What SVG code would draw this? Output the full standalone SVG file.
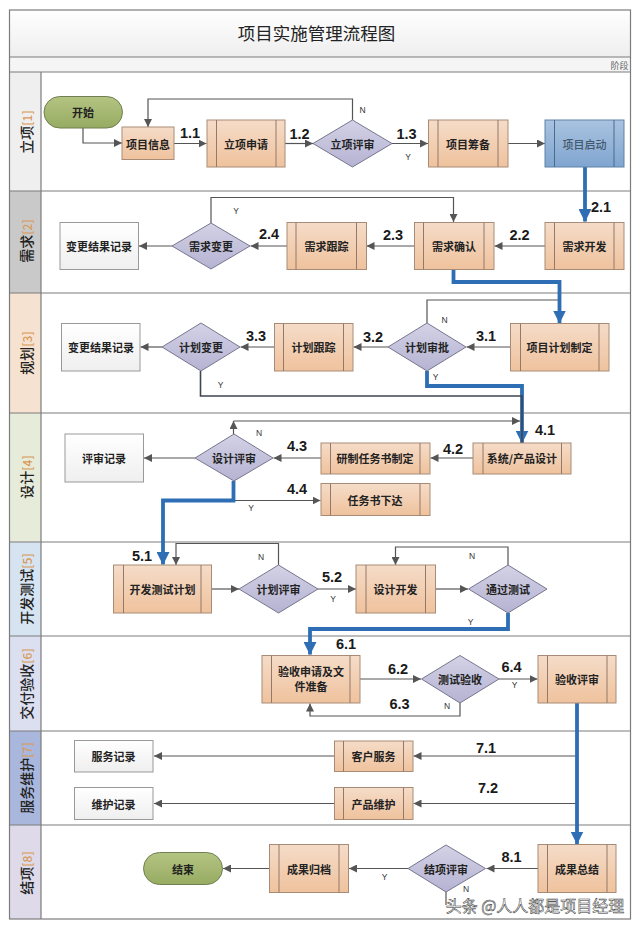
<svg xmlns="http://www.w3.org/2000/svg" width="640" height="926" viewBox="0 0 640 926">
<style>
text{font-family:"Noto Sans CJK SC","Liberation Sans",sans-serif;text-anchor:middle;dominant-baseline:central}
.t{font-size:11px;font-weight:700;fill:#222}
.title{font-size:17.5px;fill:#222}
.lane{font-size:14px;font-weight:500;fill:#222}
.lane tspan{fill:#d99a5b;font-size:12px}
.num{font-family:"Liberation Sans",sans-serif;font-size:14.5px;font-weight:700;fill:#1a1a1a}
.yn{font-family:"Liberation Sans",sans-serif;font-size:8.5px;fill:#333}
.p{fill:url(#orange);stroke:#a98c78;stroke-width:1}
.pb{fill:url(#blue);stroke:#5f81a8;stroke-width:1}
.in{stroke:#94786a;stroke-width:1;fill:none}
.inb{stroke:#4a6a90;stroke-width:1;fill:none}
.d{fill:url(#purple);stroke:#77768f;stroke-width:1}
.w{fill:url(#white);stroke:#999;stroke-width:1}
.g{fill:url(#green);stroke:#6f7f50;stroke-width:1}
.c{fill:none;stroke:#555;stroke-width:1.2;marker-end:url(#a)}
.n{fill:none;stroke:#555;stroke-width:1.2}
.b{fill:none;stroke:#2d6eb5;stroke-width:3.8;marker-end:url(#ab)}
.sep{stroke:#7c7c7c;stroke-width:1.2;fill:none}
</style>
<defs>
<linearGradient id="orange" x1="0" y1="0" x2="0" y2="1"><stop offset="0" stop-color="#f5dcc8"/><stop offset="1" stop-color="#efc29d"/></linearGradient>
<linearGradient id="blue" x1="0" y1="0" x2="0" y2="1"><stop offset="0" stop-color="#a9c3e0"/><stop offset="1" stop-color="#80a5cf"/></linearGradient>
<linearGradient id="purple" x1="0" y1="0" x2="0" y2="1"><stop offset="0" stop-color="#d3d2e6"/><stop offset="1" stop-color="#b5b3d2"/></linearGradient>
<linearGradient id="white" x1="0" y1="0" x2="0" y2="1"><stop offset="0" stop-color="#fff"/><stop offset="1" stop-color="#efefef"/></linearGradient>
<linearGradient id="green" x1="0" y1="0" x2="0" y2="1"><stop offset="0" stop-color="#b4c482"/><stop offset="1" stop-color="#97ab62"/></linearGradient>
<linearGradient id="titleg" x1="0" y1="0" x2="0" y2="1"><stop offset="0" stop-color="#fff"/><stop offset="1" stop-color="#eeeeee"/></linearGradient>
<marker id="a" markerUnits="userSpaceOnUse" markerWidth="9" markerHeight="8" refX="8" refY="4" orient="auto"><path d="M0 0L8 4L0 8z" fill="#555"/></marker>
<marker id="ab" markerUnits="userSpaceOnUse" markerWidth="14" markerHeight="13" refX="12.5" refY="6.5" orient="auto"><path d="M0 0L13 6.5L0 13z" fill="#2d6eb5"/></marker>
</defs>
<rect width="640" height="926" fill="#fff"/>
<g id="frame">
<rect x="9.5" y="10" width="621" height="47" fill="url(#titleg)"/>
<rect x="9.5" y="57" width="621" height="15" fill="#f5f5f5"/>
<rect x="9.5" y="72" width="31.5" height="119" fill="#efefef"/>
<rect x="9.5" y="191" width="31.5" height="102" fill="#c9c9c9"/>
<rect x="9.5" y="293" width="31.5" height="120" fill="#f6e2d0"/>
<rect x="9.5" y="413" width="31.5" height="129" fill="#e7ebda"/>
<rect x="9.5" y="542" width="31.5" height="94" fill="#d6e4f1"/>
<rect x="9.5" y="636" width="31.5" height="95" fill="#dcdff0"/>
<rect x="9.5" y="731" width="31.5" height="94" fill="#aab7dd"/>
<rect x="9.5" y="825" width="31.5" height="94" fill="#dedaea"/>
<rect x="9.5" y="10" width="621" height="909" class="sep"/>
<path class="sep" d="M9.5 57H630.5M9.5 72H630.5M9.5 191H630.5M9.5 293H630.5M9.5 413H630.5M9.5 542H630.5M9.5 636H630.5M9.5 731H630.5M9.5 825H630.5M41 72V919"/>
<text x="316.5" y="32.5" class="title">项目实施管理流程图</text>
<text x="619.5" y="65" font-size="9" fill="#666">阶段</text>
<text class="lane" transform="translate(26 132) rotate(-90)">立项<tspan>[1]</tspan></text>
<text class="lane" transform="translate(26 241) rotate(-90)">需求<tspan>[2]</tspan></text>
<text class="lane" transform="translate(26 353) rotate(-90)">规划<tspan>[3]</tspan></text>
<text class="lane" transform="translate(26 477) rotate(-90)">设计<tspan>[4]</tspan></text>
<text class="lane" transform="translate(26 589) rotate(-90)">开发测试<tspan>[5]</tspan></text>
<text class="lane" transform="translate(26 684) rotate(-90)">交付验收<tspan>[6]</tspan></text>
<text class="lane" transform="translate(26 778) rotate(-90)">服务维护<tspan>[7]</tspan></text>
<text class="lane" transform="translate(26 873) rotate(-90)">结项<tspan>[8]</tspan></text>
</g>
<g id="connectors">
<path class="c" d="M83 128V143H122"/>
<path class="c" d="M174 143.5H206.5"/>
<path class="c" d="M285 143.5H313"/>
<path class="c" d="M352.5 120V99H148V127"/>
<path class="c" d="M392 143.5H428"/>
<path class="c" d="M508 143.5H545"/>
<path class="c" d="M545 246H494.5"/>
<path class="c" d="M414 246H366.5"/>
<path class="c" d="M287 246H250.5"/>
<path class="c" d="M172 246H139"/>
<path class="c" d="M211 223V197.5H453.5V222"/>
<path class="c" d="M510 347H466.5"/>
<path class="c" d="M388 347H353.5"/>
<path class="c" d="M274 347H240.5"/>
<path class="c" d="M162 347H140.5"/>
<path class="n" d="M427 323V300H559.5"/>
<path class="c" d="M473 458H430.5"/>
<path class="c" d="M321 458H273.5"/>
<path class="c" d="M195 458H144"/>
<path class="c" d="M233.5 434V421"/>
<path class="c" d="M233.5 421H520"/>
<path class="c" d="M233.5 500.5H320.5"/>
<path class="c" d="M211 589H239"/>
<path class="c" d="M318 589H356"/>
<path class="c" d="M436 589H468"/>
<path class="c" d="M278.5 565V543.5H176V565"/>
<path class="c" d="M508 565V547H395.5V565"/>
<path class="c" d="M360 679H421"/>
<path class="c" d="M499 679H537.5"/>
<path class="c" d="M460 703V716H310V703.5"/>
<path class="c" d="M577 756H413.5"/>
<path class="c" d="M334 756H154"/>
<path class="c" d="M577 803.5H413.5"/>
<path class="c" d="M334 803.5H154"/>
<path class="c" d="M538 868.5H486.5"/>
<path class="c" d="M408 868.5H349"/>
<path class="c" d="M269 868.5H223"/>
<path class="n" d="M446 892V905"/>
<path class="b" d="M585 167V221.5"/>
<path class="b" d="M453.5 269.5V282H559.5V323"/>
<path class="b" d="M427 371V386H522V443"/>
<path class="n" style="stroke-width:1.6;stroke:#3f4650" d="M200.5 371V396H522V443"/>
<path class="b" d="M233.5 481V500.5H163V564.5"/>
<path class="b" d="M508 613V629H310V654.5"/>
<path class="b" d="M577 703V844"/>
</g>
<g id="n-start"><rect class="g" x="44" y="96.5" width="78.5" height="31.5" rx="15.75"/><text class="t" x="83" y="112">开始</text></g>
<g id="n-info"><rect class="p" x="122" y="127" width="52" height="32.5"/><text class="t" x="148" y="143.5">项目信息</text></g>
<g id="n-apply"><rect class="p" x="207" y="120" width="78" height="47"/><path class="in" d="M216.5 120V167M276 120V167"/><text class="t" x="246" y="143.5">立项申请</text></g>
<g id="n-review1"><path class="d" d="M352.5 120L392 143.5L352.5 167L313 143.5z"/><text class="t" x="352.5" y="143.5">立项评审</text></g>
<g id="n-prep"><rect class="p" x="428.5" y="120" width="79.5" height="47"/><path class="in" d="M438 120V167M498 120V167"/><text class="t" x="468" y="143.5">项目筹备</text></g>
<g id="n-kick"><rect class="pb" x="545" y="120" width="79" height="47"/><path class="inb" d="M554.5 120V167M614 120V167"/><text class="t" style="font-weight:500;fill:#44586e" x="584.5" y="143.5">项目启动</text></g>
<g id="n-rec2"><rect class="w" x="60" y="222.5" width="78.5" height="47"/><text class="t" x="99" y="246">变更结果记录</text></g>
<g id="n-chg2"><path class="d" d="M211 223L250 246L211 269L172 246z"/><text class="t" x="211" y="246">需求变更</text></g>
<g id="n-track2"><rect class="p" x="287" y="222.5" width="79.5" height="47"/><path class="in" d="M296 222.5V269.5M356.5 222.5V269.5"/><text class="t" x="326.5" y="246">需求跟踪</text></g>
<g id="n-conf2"><rect class="p" x="414.5" y="222.5" width="79.5" height="47"/><path class="in" d="M423.5 222.5V269.5M484 222.5V269.5"/><text class="t" x="454" y="246">需求确认</text></g>
<g id="n-dev2"><rect class="p" x="545" y="222.5" width="79" height="47"/><path class="in" d="M554.5 222.5V269.5M614 222.5V269.5"/><text class="t" x="584.5" y="246">需求开发</text></g>
<g id="n-rec3"><rect class="w" x="61.5" y="323.5" width="78.5" height="47.5"/><text class="t" x="101" y="347">变更结果记录</text></g>
<g id="n-chg3"><path class="d" d="M201 323L240 347L201 371L162 347z"/><text class="t" x="201" y="347">计划变更</text></g>
<g id="n-track3"><rect class="p" x="274.5" y="323.5" width="78.5" height="47.5"/><path class="in" d="M283.5 323.5V371M343.5 323.5V371"/><text class="t" x="313.5" y="347">计划跟踪</text></g>
<g id="n-appr3"><path class="d" d="M427 323L466 347L427 371L388 347z"/><text class="t" x="427" y="347">计划审批</text></g>
<g id="n-plan3"><rect class="p" x="510.5" y="323.5" width="98.5" height="47.5"/><path class="in" d="M520.5 323.5V371M599 323.5V371"/><text class="t" x="559.5" y="347">项目计划制定</text></g>
<g id="n-rec4"><rect class="w" x="65" y="434" width="78.5" height="48"/><text class="t" x="104" y="458">评审记录</text></g>
<g id="n-rev4"><path class="d" d="M234 434L273 458L234 481L195 458z"/><text class="t" x="234" y="458">设计评审</text></g>
<g id="n-task4"><rect class="p" x="321" y="443" width="109" height="31"/><path class="in" d="M330.5 443V474M420 443V474"/><text class="t" x="375" y="458">研制任务书制定</text></g>
<g id="n-sys4"><rect class="p" x="473" y="443" width="98" height="31"/><path class="in" d="M483 443V474M561.5 443V474"/><text class="t" x="522" y="458">系统/产品设计</text></g>
<g id="n-issue4"><rect class="p" x="321" y="483.5" width="109" height="32"/><path class="in" d="M330.5 483.5V515.5M420 483.5V515.5"/><text class="t" x="375" y="499.5">任务书下达</text></g>
<g id="n-plan5"><rect class="p" x="113.5" y="565" width="98" height="48"/><path class="in" d="M123.5 565V613M201 565V613"/><text class="t" x="162.5" y="589">开发测试计划</text></g>
<g id="n-rev5"><path class="d" d="M278.5 565L318 589L278.5 613L239 589z"/><text class="t" x="278.5" y="589">计划评审</text></g>
<g id="n-dev5"><rect class="p" x="356" y="565" width="79.5" height="48"/><path class="in" d="M366 565V613M425.5 565V613"/><text class="t" x="395.5" y="589">设计开发</text></g>
<g id="n-test5"><path class="d" d="M508 565L547 589L508 613L468.5 589z"/><text class="t" x="508" y="589">通过测试</text></g>
<g id="n-acc6"><rect class="p" x="262" y="655.5" width="98" height="47.5"/><path class="in" d="M271.5 655.5V703M350 655.5V703"/><text class="t" x="311" y="671">验收申请及文</text><text class="t" x="311" y="686">件准备</text></g>
<g id="n-test6"><path class="d" d="M460 655.5L499 679L460 703L421.5 679z"/><text class="t" x="460" y="679">测试验收</text></g>
<g id="n-rev6"><rect class="p" x="538" y="655.5" width="78" height="47.5"/><path class="in" d="M547.5 655.5V703M607 655.5V703"/><text class="t" x="577" y="679">验收评审</text></g>
<g id="n-rec7a"><rect class="w" x="74.5" y="740.5" width="78.5" height="31.5"/><text class="t" x="113.5" y="756">服务记录</text></g>
<g id="n-cust7"><rect class="p" x="334.5" y="741" width="78.5" height="30.5"/><path class="in" d="M343.5 741V771.5M403.5 741V771.5"/><text class="t" x="373.5" y="756">客户服务</text></g>
<g id="n-rec7b"><rect class="w" x="74.5" y="787.5" width="78.5" height="32"/><text class="t" x="113.5" y="803.5">维护记录</text></g>
<g id="n-main7"><rect class="p" x="334.5" y="787.5" width="78.5" height="32"/><path class="in" d="M343.5 787.5V819.5M403.5 787.5V819.5"/><text class="t" x="373.5" y="803.5">产品维护</text></g>
<g id="n-end"><rect class="g" x="143.5" y="852.5" width="79" height="32" rx="16"/><text class="t" x="183" y="868.5">结束</text></g>
<g id="n-arch8"><rect class="p" x="269.5" y="844.5" width="79" height="48"/><path class="in" d="M279 844.5V892.5M339 844.5V892.5"/><text class="t" x="309" y="868.5">成果归档</text></g>
<g id="n-rev8"><path class="d" d="M446 845L485.5 868.5L446 892L408 868.5z"/><text class="t" x="446" y="868.5">结项评审</text></g>
<g id="n-sum8"><rect class="p" x="538" y="844.5" width="78" height="48"/><path class="in" d="M547.5 844.5V892.5M607 844.5V892.5"/><text class="t" x="577" y="868.5">成果总结</text></g>
<g id="labels">
<text class="num" x="190" y="133">1.1</text><text class="num" x="299.5" y="134">1.2</text><text class="num" x="406.5" y="133.5">1.3</text>
<text class="num" x="601" y="206.5">2.1</text><text class="num" x="519.5" y="234.5">2.2</text><text class="num" x="393" y="234.5">2.3</text><text class="num" x="269" y="234">2.4</text>
<text class="num" x="486" y="336">3.1</text><text class="num" x="373" y="337">3.2</text><text class="num" x="256" y="336">3.3</text>
<text class="num" x="545" y="430">4.1</text><text class="num" x="453" y="449">4.2</text><text class="num" x="297" y="446">4.3</text><text class="num" x="297" y="489">4.4</text>
<text class="num" x="142" y="556">5.1</text><text class="num" x="332" y="577">5.2</text>
<text class="num" x="346" y="644">6.1</text><text class="num" x="398" y="669">6.2</text><text class="num" x="399.5" y="704">6.3</text><text class="num" x="511.5" y="667">6.4</text>
<text class="num" x="486" y="748">7.1</text><text class="num" x="488" y="788">7.2</text><text class="num" x="511.5" y="857">8.1</text>
<text class="yn" x="362.5" y="110">N</text><text class="yn" x="408" y="156.5">Y</text><text class="yn" x="236" y="210.5">Y</text>
<text class="yn" x="444.5" y="319.5">N</text><text class="yn" x="435.5" y="377">Y</text><text class="yn" x="220.5" y="385">Y</text>
<text class="yn" x="259" y="432.5">N</text><text class="yn" x="251" y="508">Y</text>
<text class="yn" x="261" y="557">N</text><text class="yn" x="472" y="556">N</text><text class="yn" x="333" y="598.5">Y</text><text class="yn" x="470.5" y="622">Y</text>
<text class="yn" x="514.5" y="685">Y</text><text class="yn" x="447" y="706">N</text>
<text class="yn" x="384.5" y="877">Y</text><text class="yn" x="466" y="889">N</text>
</g>
<text id="watermark" x="535" y="905" font-size="16" fill="#fff" stroke="#333" stroke-width=".5">头条 @人人都是项目经理</text>
</svg>
